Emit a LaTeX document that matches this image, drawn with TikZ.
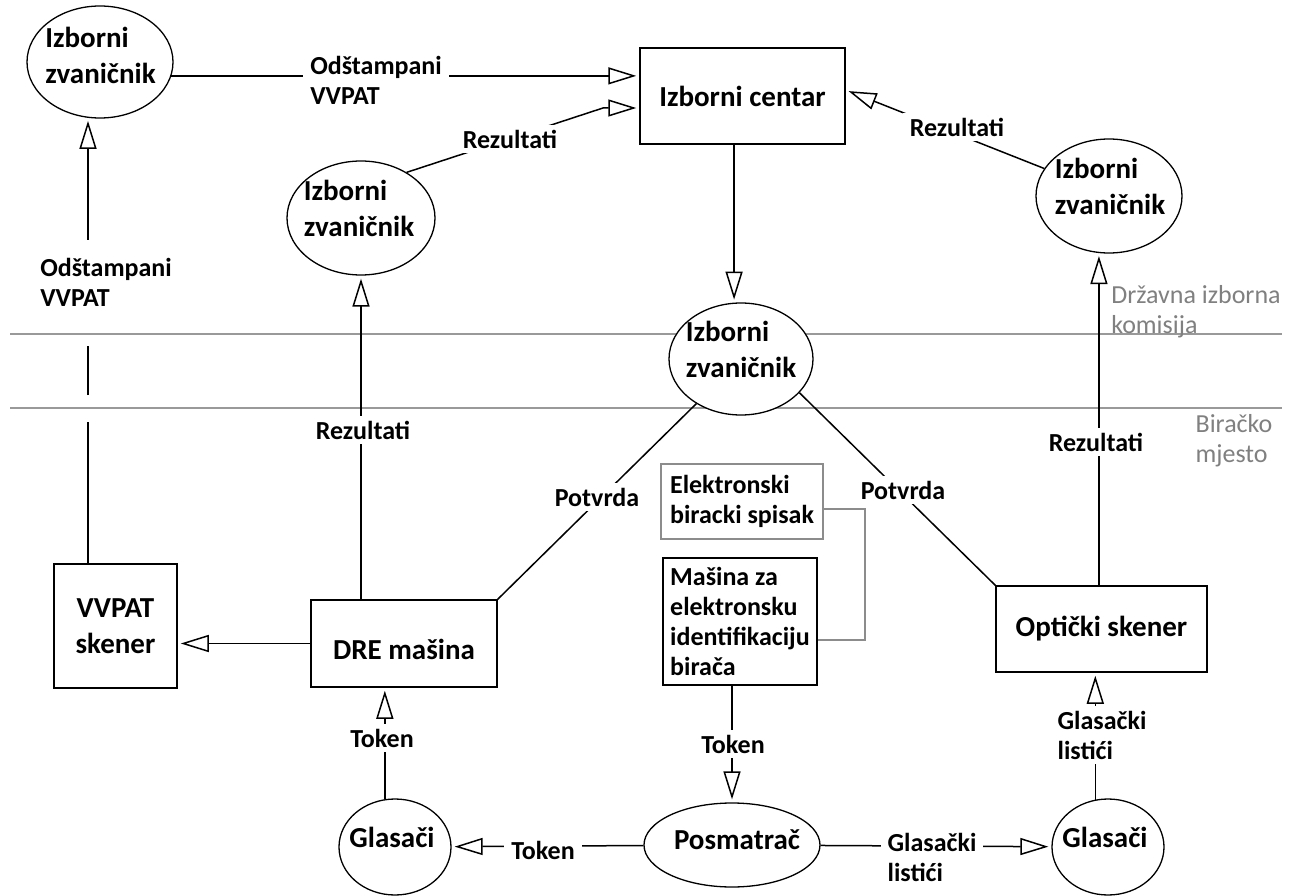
\documentclass[tikz,border=0pt]{standalone}
\usepackage{fontspec}
\setmainfont{Carlito}
\usetikzlibrary{shapes.geometric,arrows.meta,calc}
\newcommand\myNodeFont{\fontsize{29pt}{36pt}\selectfont\bfseries}
\newcommand\myLblFont{\fontsize{26pt}{30pt}\selectfont\bfseries}
\newcommand\myGrayFont{\fontsize{26pt}{30pt}\selectfont}
\begin{document}
\begin{tikzpicture}[x=1pt,y=-1pt,
  ln/.style={line width=1.5pt, black},
  ell/.style={ellipse, draw, line width=1.3pt, fill=white, inner sep=0pt},
  boxn/.style={rectangle, draw, line width=1.5pt, fill=white, inner sep=0pt, align=center, font=\myNodeFont},
  ntext/.style={align=left, font=\myNodeFont, inner sep=0pt},
  lbl/.style={fill=white, inner xsep=7pt, inner ysep=5pt, align=left, font=\myLblFont},
  glbl/.style={align=left, font=\myGrayFont, text=black!50, inner sep=0pt},
  grayln/.style={line width=1.3pt, black!45},
  sepln/.style={line width=1.6pt, black!40},
  arr/.style={-{Triangle[open,length=28pt,width=17pt]}, shorten >=3pt}
]
\fill[white] (0,0) rectangle (1302,896);
\useasboundingbox (0,0) rectangle (1302,896);

% separator lines
\coordinate (h1l) at (10,334); \coordinate (h1r) at (1282,334);
\coordinate (h2l) at (10,408); \coordinate (h2r) at (1282,408);
\draw[sepln] (h1l) -- (h1r);
\draw[sepln] (h2l) -- (h2r);

% ellipses
\node[ell, minimum width=146pt, minimum height=112pt] (A) at (100,62) {};
\node[ell, minimum width=148pt, minimum height=114pt] (B) at (361,218) {};
\node[ell, minimum width=144pt, minimum height=112pt] (C) at (741,359) {};
\node[ell, minimum width=146pt, minimum height=114pt] (D) at (1109,196) {};
\node[ell, minimum width=176pt, minimum height=84pt] (pos) at (732,845) {};
\node[ell, minimum width=112pt, minimum height=96pt] (gl) at (395,847) {};
\node[ell, minimum width=112pt, minimum height=96pt] (glr) at (1108,847) {};

% boxes
\node[boxn, minimum width=205pt, minimum height=96pt] (ic) at (742.5,96) {Izborni centar};
\node[boxn, minimum width=186pt, minimum height=87pt] (dre) at (404,643.5) {\raisebox{-6pt}[\height][\depth]{DRE mašina}};
\node[boxn, minimum width=123pt, minimum height=124pt] (vv) at (115.5,626) {VVPAT\\skener};
\node[boxn, minimum width=211pt, minimum height=86pt] (opt) at (1101.5,629) {Optički skener};
\node[rectangle, draw=black!45, line width=1.3pt, fill=white, inner sep=0pt, align=left, font=\myLblFont,
      minimum width=162pt, minimum height=75pt] (ek) at (742,501.5) {Elektronski\\biracki spisak};
\node[rectangle, draw, line width=1.5pt, fill=white, inner sep=0pt, align=left, font=\myLblFont,
      minimum width=154pt, minimum height=127pt] (mas) at (740,621.5) {Mašina za\\elektronsku\\identifikaciju\\birača};

% gray connector
\coordinate (ekE) at ($(ek.east)+(0,7.5)$);
\coordinate (ekc) at (865,509);
\coordinate (masE) at ($(mas.east)+(0,18.5)$);
\draw[grayln] (ekE) -- (ekc) |- (masE);

% connectors
\draw[ln,arr] (A.-11) -- (A.-11 -| ic.west);
\node[lbl] (l1) at (376,80) {Odštampani\\VVPAT};

\coordinate (bR) at (603,108);
\draw[ln,arr] (B.45) -- (bR) -- (bR -| ic.west);
\node[lbl] (l2) at (510,139) {Rezultati};

\coordinate (icR) at ($(ic.east)+(0,-6)$);
\draw[ln,arr] (D.157) -- (icR);
\node[lbl] (l3) at (957,127) {Rezultati};

\draw[ln,arr] (ic.south -| C.97) -- (C.97);

\coordinate (s1) at (88,422); \coordinate (s2) at (88,395);
\coordinate (s3) at (88,346); \coordinate (s4) at (88,240);
\draw[ln] (vv.north -| s1) -- (s1);
\draw[ln] (s2) -- (s3);
\draw[ln,arr] (s4) -- (s4 |- A.258);
\node[lbl] (l4) at (106,282) {Odštampani\\VVPAT};

\draw[ln,arr] (dre.north -| B.south) -- (B.south);
\node[lbl] (l5) at (363,430) {Rezultati};

\draw[ln,arr] (opt.north -| D.260) -- (D.260);
\node[lbl] (l6) at (1096,442) {Rezultati};

\draw[ln] (dre.north east) -- (C.225);
\node[lbl] (l7) at (597,497) {Potvrda};
\draw[ln] (C.-30) -- (opt.north west);
\node[lbl] (l8) at (903,490) {Potvrda};

\draw[ln,arr] (dre.west) -- (dre.west -| vv.east);

\draw[ln,arr] (gl.102) -- (gl.102 |- dre.south);
\node[lbl] (l9) at (382,738) {Token};

\draw[ln,arr] (mas.south -| pos.north) -- (pos.north);
\node[lbl] (l10) at (733,744) {Token};

\draw[ln,arr] (pos) -- (gl);
\node[lbl] (l11) at (543,850) {Token};

\draw[ln,arr] (pos) -- (glr);
\node[lbl] (l12) at (932,857) {Glasački\\listići};

\draw[ln,arr] (glr.105) -- (glr.105 |- opt.south);
\node[lbl] (l13) at (1102,735) {Glasački\\listići};

% gray labels
\node[glbl] (g1) at (1196,312) {Državna izborna\\komisija};
\node[glbl] (g2) at (1234,441) {Biračko\\mjesto};

% ellipse texts
\node[ntext] (At) at (100.5,55) {Izborni\\zvaničnik};
\node[ntext] (Bt) at (359,208) {Izborni\\zvaničnik};
\node[ntext] (Ct) at (741,349) {Izborni\\zvaničnik};
\node[ntext] (Dt) at (1110,186) {Izborni\\zvaničnik};
\node[ntext] (post) at (737,840) {Posmatrač};
\node[ntext] (glt) at (392,837) {Glasači};
\node[ntext] (glrt) at (1105,837) {Glasači};
\end{tikzpicture}
\end{document}
